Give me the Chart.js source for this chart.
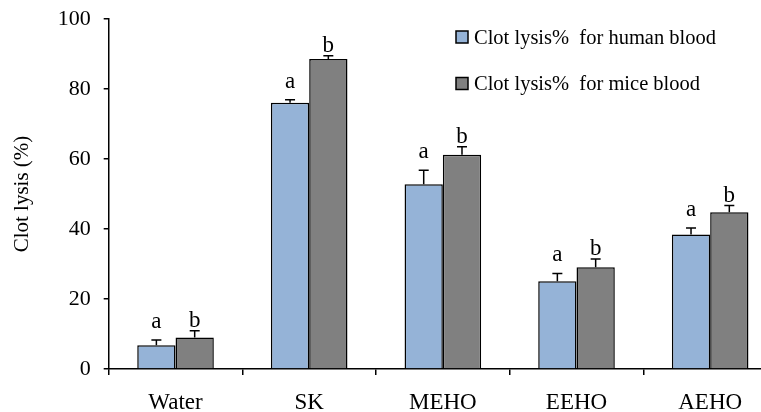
<!DOCTYPE html>
<html>
<head>
<meta charset="utf-8">
<script src="https://cdn.jsdelivr.net/npm/chart.js@4/dist/chart.umd.min.js"></script>
<style>
  html, body { margin: 0; padding: 0; background: #fff; overflow: hidden; }
  #wrap { width: 800px; height: 412px; }
</style>
</head>
<body>
<div id="wrap"><canvas id="c" width="800" height="412"></canvas></div>
<script>
// Clot lysis results by treatment (mean and SD, %)
const categories = ['Water', 'SK', 'MEHO', 'EEHO', 'AEHO'];
const seriesNames = ['Clot lysis%  for human blood', 'Clot lysis%  for mice blood'];
const humanMean = [6.8, 76.1, 52.8, 25.1, 38.4];
const humanSD   = [1.5, 0.8, 4.0, 2.2, 1.9];
const miceMean  = [9.0, 88.6, 61.2, 29.1, 44.8];
const miceSD    = [1.9, 0.9, 2.3, 2.3, 1.9];
const humanLetters = ['a', 'a', 'a', 'a', 'a'];
const miceLetters  = ['b', 'b', 'b', 'b', 'b'];
const yTicks = [0, 20, 40, 60, 80, 100];

const FONT = "'Liberation Serif', 'Times New Roman', serif";
const seriesColors = ['#95B3D7', '#808080'];
const sdSets = [humanSD, miceSD];
const letterSets = [humanLetters, miceLetters];
const letterGap = [12, 4];

// Upper error whiskers plus the significance letters above them
const errorBars = {
  id: 'errorBars',
  afterDatasetsDraw(chart) {
    const ctx = chart.ctx;
    const yScale = chart.scales.y;
    ctx.save();
    ctx.strokeStyle = '#000';
    ctx.lineWidth = 1.5;
    ctx.fillStyle = '#000';
    ctx.font = '23px ' + FONT;
    ctx.textAlign = 'center';
    ctx.textBaseline = 'alphabetic';
    chart.data.datasets.forEach((ds, di) => {
      const meta = chart.getDatasetMeta(di);
      meta.data.forEach((bar, i) => {
        const top = yScale.getPixelForValue(ds.data[i] + sdSets[di][i]);
        ctx.beginPath();
        ctx.moveTo(bar.x, bar.y);
        ctx.lineTo(bar.x, top);
        ctx.moveTo(bar.x - 5, top);
        ctx.lineTo(bar.x + 5, top);
        ctx.stroke();
        ctx.fillText(letterSets[di][i], bar.x, top - letterGap[di]);
      });
    });
    ctx.restore();
  }
};

// Legend in the upper right corner of the plot
const boxLegend = {
  id: 'boxLegend',
  afterDraw(chart) {
    const ctx = chart.ctx;
    ctx.save();
    ctx.font = '20.5px ' + FONT;
    ctx.textAlign = 'left';
    ctx.textBaseline = 'alphabetic';
    chart.data.datasets.forEach((ds, di) => {
      const y = 31 + di * 46.5;
      ctx.fillStyle = ds.backgroundColor;
      ctx.fillRect(456, y, 12, 12);
      ctx.strokeStyle = '#000';
      ctx.lineWidth = 1.5;
      ctx.strokeRect(456, y, 12, 12);
      ctx.fillStyle = '#000';
      ctx.fillText(ds.label, 474, y + 12.5);
    });
    ctx.restore();
  }
};

new Chart(document.getElementById('c'), {
  type: 'bar',
  data: {
    labels: categories,
    datasets: [
      { label: seriesNames[0], data: humanMean, backgroundColor: seriesColors[0],
        borderColor: '#000', borderWidth: 1.5, borderSkipped: 'bottom' },
      { label: seriesNames[1], data: miceMean, backgroundColor: seriesColors[1],
        borderColor: '#000', borderWidth: 1.5, borderSkipped: 'bottom' }
    ]
  },
  options: {
    responsive: false,
    animation: false,
    devicePixelRatio: 1,
    layout: { padding: { left: 0, right: 23, top: 19, bottom: 0 } },
    datasets: { bar: { categoryPercentage: 0.573, barPercentage: 1.0 } },
    plugins: { legend: { display: false }, tooltip: { enabled: false } },
    scales: {
      x: {
        type: 'category',
        offset: true,
        grid: { offset: true, drawOnChartArea: false, drawTicks: true, tickLength: 6,
                color: '#000', lineWidth: 1.5 },
        border: { color: '#000', width: 1.5 },
        ticks: { color: '#000', font: { family: FONT, size: 23 }, padding: 14, maxRotation: 0 },
        afterFit(s) { s.height = 43; }
      },
      y: {
        min: 0,
        max: 100,
        afterBuildTicks(s) { s.ticks = yTicks.map(v => ({ value: v })); },
        grid: { drawOnChartArea: false, drawTicks: true, tickLength: 5,
                color: '#000', lineWidth: 1.5 },
        border: { color: '#000', width: 1.5 },
        ticks: { color: '#000', font: { family: FONT, size: 22 }, padding: 13 },
        title: { display: true, text: 'Clot lysis (%)', color: '#000',
                 font: { family: FONT, size: 21 }, padding: { top: 10, bottom: 0 } },
        afterFit(s) {
          s.width = 108.7;
          s.paddingTop = 0;
          s.paddingBottom = 0;
        }
      }
    }
  },
  plugins: [errorBars, boxLegend]
});
</script>
</body>
</html>
